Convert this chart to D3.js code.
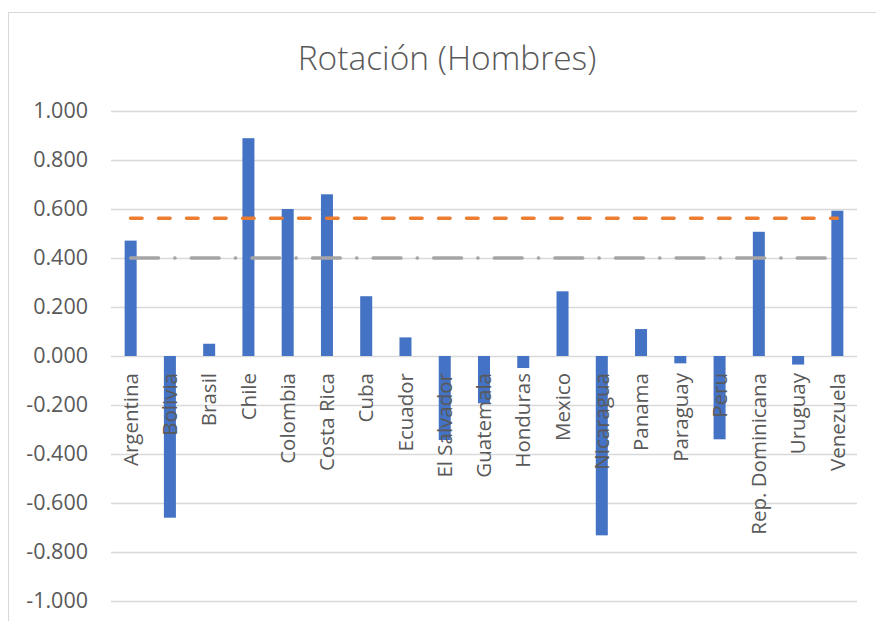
<!DOCTYPE html>
<html>
<head>
<meta charset="utf-8">
<script src="https://cdn.jsdelivr.net/npm/d3@7"></script>
<style>
  html, body { margin: 0; padding: 0; background: #fff; }
  svg { display: block; }
</style>
</head>
<body>
<svg id="chart" width="876" height="621"></svg>
<script>
const title = "Rotación (Hombres)";
const countries = ["Argentina", "Bolivia", "Brasil", "Chile", "Colombia", "Costa Rica", "Cuba", "Ecuador", "El Salvador", "Guatemala", "Honduras", "Mexico", "Nicaragua", "Panama", "Paraguay", "Peru", "Rep. Dominicana", "Uruguay", "Venezuela"];
const rotacion = [0.471, -0.660, 0.050, 0.889, 0.600, 0.660, 0.244, 0.076, -0.343, -0.193, -0.049, 0.264, -0.732, 0.110, -0.030, -0.340, 0.507, -0.035, 0.593];
const promedio = 0.562;   // orange dashed line
const referencia = 0.400; // gray dash-dot line
const yTicks = [-1, -0.8, -0.6, -0.4, -0.2, 0, 0.2, 0.4, 0.6, 0.8, 1];
const yTickLabels = ["-1.000", "-0.800", "-0.600", "-0.400", "-0.200", "0.000", "0.200", "0.400", "0.600", "0.800", "1.000"];

const svg = d3.select("#chart");
const textColor = "#595959";
const font = "'Open Sans', 'Liberation Sans', sans-serif";

// chart border (extends beyond the window on right/bottom)
svg.append("rect")
  .attr("x", 8.5).attr("y", 12.5)
  .attr("width", 900).attr("height", 700)
  .attr("fill", "#fff").attr("stroke", "#D9D9D9").attr("stroke-width", 1);

const plot = { left: 111, right: 857, top: 111, bottom: 601 };

const x = d3.scaleBand().domain(countries).range([plot.left, plot.right]).padding(0);
const y = d3.scaleLinear().domain([-1, 1]).range([plot.bottom, plot.top]);
const barW = x.bandwidth() * 0.306;

// title
svg.append("text")
  .attr("x", 447).attr("y", 70)
  .attr("text-anchor", "middle")
  .attr("font-family", font).attr("font-size", 33.5).attr("font-weight", 300)
  .attr("fill", textColor)
  .text(title);

// gridlines
const yAxis = d3.axisLeft(y).tickValues(yTicks)
  .tickSize(-(plot.right - plot.left))
  .tickFormat((d, i) => yTickLabels[i]);
const gy = svg.append("g").attr("transform", `translate(${plot.left},0)`).call(yAxis);
gy.select(".domain").remove();
gy.selectAll(".tick line").attr("stroke", "#D9D9D9").attr("stroke-width", 1.3);
gy.selectAll(".tick text")
  .attr("x", -23)
  .attr("font-family", font).attr("font-size", 21.5)
  .attr("fill", textColor);

// bars
svg.append("g").selectAll("rect")
  .data(countries.map((c, i) => ({ c, v: rotacion[i] })))
  .join("rect")
  .attr("x", d => x(d.c) + (x.bandwidth() - barW) / 2)
  .attr("width", barW)
  .attr("y", d => y(Math.max(0, d.v)))
  .attr("height", d => Math.abs(y(d.v) - y(0)))
  .attr("fill", "#4472C4");

// reference lines (from first to last category center)
const x0 = x(countries[0]) + x.bandwidth() / 2;
const x1 = x(countries[countries.length - 1]) + x.bandwidth() / 2;

svg.append("line")
  .attr("x1", x0).attr("x2", x1)
  .attr("y1", y(referencia)).attr("y2", y(referencia))
  .attr("stroke", "#A5A5A5").attr("stroke-width", 3.3)
  .attr("stroke-linecap", "round")
  .attr("stroke-dasharray", "28,16.1,0.4,16.1");

svg.append("line")
  .attr("x1", x0).attr("x2", x1)
  .attr("y1", y(promedio)).attr("y2", y(promedio))
  .attr("stroke", "#ED7D31").attr("stroke-width", 3.6)
  .attr("stroke-linecap", "round")
  .attr("stroke-dasharray", "11.4,16.6");

// category labels (rotated)
const xAxis = d3.axisBottom(x).tickSize(0).tickSizeOuter(0);
const gx = svg.append("g").attr("transform", `translate(0,${y(0)})`).call(xAxis);
gx.select(".domain").remove();
gx.selectAll(".tick text")
  .attr("transform", "rotate(-90)")
  .attr("x", -17).attr("y", 0).attr("dy", "0.35em")
  .attr("text-anchor", "end")
  .attr("font-family", font).attr("font-size", 20.5)
  .attr("fill", textColor);
</script>
</body>
</html>
